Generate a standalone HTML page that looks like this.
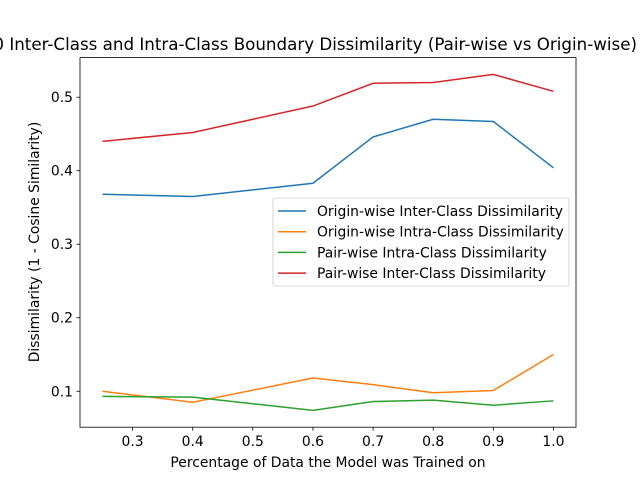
<!DOCTYPE html>
<html><head><meta charset="utf-8"><style>
body{margin:0;background:#fff}
svg{display:block;font-family:"DejaVu Sans","Liberation Sans",sans-serif}
</style></head><body>
<svg id="chart" width="640" height="480" viewBox="0 0 640 480">
<rect width="640" height="480" fill="#fff"/>
<text x="637" y="50" font-size="16.7" text-anchor="end">CIFAR-10 Inter-Class and Intra-Class Boundary Dissimilarity (Pair-wise vs Origin-wise)</text>
<g id="ticks"></g>
<g id="series"></g>
<rect x="80" y="57.6" width="496" height="369.6" fill="none" stroke="#000" stroke-width="0.8"/>
<text x="328" y="467" font-size="13.9" text-anchor="middle">Percentage of Data the Model was Trained on</text>
<text transform="translate(39,242) rotate(-90)" font-size="13.9" text-anchor="middle">Dissimilarity (1 - Cosine Similarity)</text>
<g id="legend">
<rect x="273" y="198" width="296" height="88" rx="2" fill="#fff" fill-opacity="0.8" stroke="#ccc" stroke-width="0.8"/>
</g>
</svg>
<script>
const categories=[0.25,0.4,0.6,0.7,0.8,0.9,1.0];
const originInter=[0.368,0.365,0.383,0.446,0.470,0.467,0.404];
const originIntra=[0.100,0.085,0.118,0.109,0.098,0.101,0.150];
const pairIntra=[0.093,0.092,0.074,0.086,0.088,0.081,0.087];
const pairInter=[0.440,0.452,0.488,0.519,0.520,0.531,0.508];
const xTicks=[0.3,0.4,0.5,0.6,0.7,0.8,0.9,1.0];
const yTicks=[0.1,0.2,0.3,0.4,0.5];
const seriesNames=["Origin-wise Inter-Class Dissimilarity","Origin-wise Intra-Class Dissimilarity","Pair-wise Intra-Class Dissimilarity","Pair-wise Inter-Class Dissimilarity"];
const NS="http://www.w3.org/2000/svg";
const X0=80,X1=576,Y0=427.2,Y1=57.6;
const xmin=0.2125,xmax=1.0375,ymin=0.0511,ymax=0.5539;
const sx=v=>X0+(v-xmin)/(xmax-xmin)*(X1-X0);
const sy=v=>Y0-(v-ymin)/(ymax-ymin)*(Y0-Y1);
function mk(t,a){const e=document.createElementNS(NS,t);for(const k in a)e.setAttribute(k,a[k]);return e;}
const tg=document.getElementById('ticks');
xTicks.forEach(v=>{
 const l=mk('line',{x1:sx(v),x2:sx(v),y1:Y0,y2:Y0+3.5,stroke:'#000','stroke-width':0.8});
 
 
 tg.appendChild(l);
 const t=mk('text',{x:sx(v),y:Y0+19,'font-size':13.9,'text-anchor':'middle'});
 
 
 t.textContent=v.toFixed(1);tg.appendChild(t);
});
yTicks.forEach(v=>{
 const l=mk('line',{x1:X0-3.5,x2:X0,y1:sy(v),y2:sy(v),stroke:'#000','stroke-width':0.8});
 
 
 tg.appendChild(l);
 const t=mk('text',{x:X0-7,y:sy(v)+5,'font-size':13.9,'text-anchor':'end'});
 
 
 t.textContent=v.toFixed(1);tg.appendChild(t);
});
const sg=document.getElementById('series');
const lg=document.getElementById('legend');
const all=[originInter,originIntra,pairIntra,pairInter];
const colors=['#1f77b4','#ff7f0e','#2ca02c','#d62728'];
all.forEach((d,i)=>{
 const p=mk('polyline',{points:d.map((v,j)=>sx(categories[j])+','+sy(v)).join(' '),fill:'none',stroke:colors[i],'stroke-width':1.5});
 
 
 sg.appendChild(p);
 const y=211+i*20.7;
 const l=mk('line',{x1:278,x2:306,y1:y,y2:y,stroke:colors[i],'stroke-width':1.5});
 
 
 lg.appendChild(l);
 const t=mk('text',{x:317,y:y+5,'font-size':13.9});
 
 
 t.textContent=seriesNames[i];lg.appendChild(t);
});
</script>
</body></html>
